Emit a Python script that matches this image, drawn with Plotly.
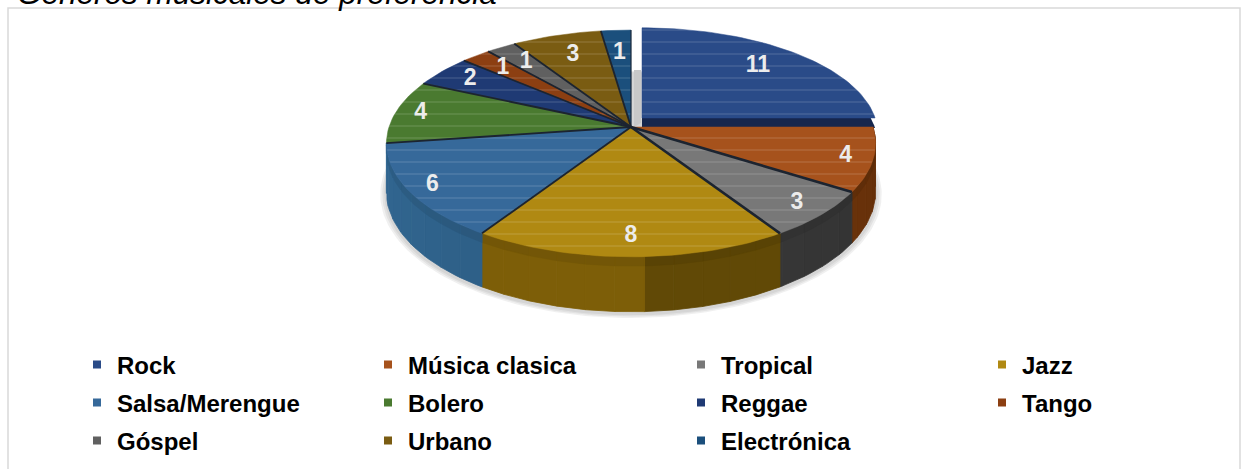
import math
import plotly.graph_objects as go

categories = ["Rock", "Música clasica", "Tropical", "Jazz", "Salsa/Merengue", "Bolero",
              "Reggae", "Tango", "Góspel", "Urbano", "Electrónica"]
values = [11, 4, 3, 8, 6, 4, 2, 1, 1, 3, 1]
top_colors = ["#2a4b88", "#a6521c", "#787878", "#b08912", "#36699a", "#4a7a30",
              "#1f3a74", "#8c3f12", "#606060", "#7a5c12", "#1b4f7c"]
wall_colors = ["#16264d", "#7a3a0c", "#3d3d3d", "#7d5e08", "#2f6189", "#35591f",
               "#152850", "#5e2a0a", "#3d3d3d", "#54400a", "#123652"]
legend_x = [77, 368, 681, 982]
legend_y = [365, 403, 441]

# projection of the tilted disc
CX, CY, RX, RY, P, DEPTH = 631, 127, 242, 111, 0.145, 47
total = sum(values)


def project(angle, r=1.0, ox=0.0, oy=0.0, sx=1.0, sy=1.0, dz=0.0):
    u = math.sin(math.radians(angle)) * r
    v = math.cos(math.radians(angle)) * r
    s = 1 / (1 + P * v)
    return CX + ox + RX * sx * u * s, CY + oy - RY * sy * v * s + dz * s


def arc(a0, a1, **kw):
    n = max(2, int(abs(a1 - a0) / 1.5))
    return [project(a0 + (a1 - a0) * i / n, **kw) for i in range(n + 1)]


def shade(hex_color, f):
    r, g, b = [int(hex_color[i:i + 2], 16) for i in (1, 3, 5)]
    return f"rgb({min(255, int(r * f))},{min(255, int(g * f))},{min(255, int(b * f))})"


spans = []
acc = 0
for val in values:
    spans.append((acc / total * 360, (acc + val) / total * 360))
    acc += val

fig = go.Figure()


def poly(points, color, line=None, width=0, pattern=None):
    fig.add_trace(go.Scatter(
        x=[p[0] for p in points] + [points[0][0]],
        y=[p[1] for p in points] + [points[0][1]],
        mode="lines", fill="toself", fillcolor=color,
        fillpattern=pattern,
        line=dict(color=line or color, width=width),
        hoverinfo="skip", showlegend=False))


def seam(p, q, color, width):
    fig.add_trace(go.Scatter(x=[p[0], q[0]], y=[p[1], q[1]], mode="lines",
                             line=dict(color=color, width=width),
                             hoverinfo="skip", showlegend=False))


# soft shadow beneath the pie
for grow in (6, 4, 2):
    pts = arc(0, 360, r=1 + grow / 245, dz=DEPTH + 1, oy=1)
    poly(pts, "rgba(60,60,60,0.08)")

# exploded first slice: its hidden body shows as a dark band
EXPL = dict(ox=11, oy=-9, sx=0.963, sy=0.93)
a0, a1 = spans[0]
rock_top = [(CX + 11, CY - 9)] + arc(a0, a1, **EXPL)
poly([(x, y + 10) for x, y in rock_top], wall_colors[0])

# shadow cast in the gap beside the exploded slice
poly([(CX + 3, 70), (CX + 10, 70), (CX + 10, 123), (CX + 3, 127)], "rgb(200,200,200)")

# outer walls, front half only
for i, (a0, a1) in enumerate(spans):
    lo, hi = max(a0, 88), min(a1, 265)
    if i == 0 or i >= 5 or lo >= hi:
        continue
    step = 6
    a = lo
    while a < hi:
        b = min(a + step, hi)
        f = 0.82 + 0.26 * ((a - 90) / 180)
        if i == 3:
            f = 1.0 if a >= 177 else 0.78
        top = arc(a, b)
        bot = arc(b, a, dz=DEPTH)
        poly(top + bot, shade(wall_colors[i], f), width=0.8)
        band = arc(b, a, dz=8)
        poly(top + band, shade(wall_colors[i], f * 0.92), width=0.5)
        a = b

# top faces
order = [10, 9, 8, 7, 6, 5, 4, 1, 2, 3, 0]
for i in order:
    a0, a1 = spans[i]
    kw = EXPL if i == 0 else {}
    apex = (CX + 11, CY - 9) if i == 0 else (CX, CY)
    pts = [apex] + arc(a0, a1, **kw)
    poly(pts, top_colors[i], width=0.5,
         pattern=dict(shape="-", fgcolor="white", fgopacity=0.13, size=12, solidity=0.12,
                      bgcolor=top_colors[i]))

# dark seams between the slices
for i, (a0, a1) in enumerate(spans):
    if i in (0, 1):
        continue
    seam((CX, CY), project(a0), "#1c2430", 2.6 if i in (2, 3) else 1.8)
seam((CX, CY), project(0), "#1c2430", 1.0)

# value labels
lx, ly = [], []
for i, (a0, a1) in enumerate(spans):
    mid = (a0 + a1) / 2
    u = math.sin(math.radians(mid))
    v = math.cos(math.radians(mid))
    f = 0.8 - 0.06 * v
    if i == 0:
        x, y = project(mid, r=f, **EXPL)
    else:
        x, y = project(mid, r=f + (0.08 if u > 0 else 0.105) * u * u)
    lx.append(x)
    ly.append(y)
fig.add_trace(go.Scatter(
    x=lx, y=ly, mode="text", text=[str(v) for v in values],
    textfont=dict(family="Liberation Sans", size=23, color="#ececec", weight="bold"),
    hoverinfo="skip", showlegend=False))

# legend
layout_legends = {}
for i, name in enumerate(categories):
    key = "legend" if i == 0 else f"legend{i + 1}"
    row, col = i // 4, i % 4
    fig.add_trace(go.Scatter(
        x=[None], y=[None], mode="markers", name=name, legend=key,
        marker=dict(symbol="square", size=8, color=top_colors[i])))
    layout_legends[key] = dict(
        x=legend_x[col] / 1248, xanchor="left",
        y=1 - legend_y[row] / 469, yanchor="middle",
        bgcolor="rgba(0,0,0,0)", borderwidth=0,
        font=dict(family="Liberation Sans", size=24, color="#000000", weight="bold"))

fig.update_layout(
    width=1248, height=469, autosize=False,
    margin=dict(l=0, r=0, t=0, b=0),
    paper_bgcolor="white", plot_bgcolor="white",
    xaxis=dict(range=[0, 1248], visible=False, fixedrange=True),
    yaxis=dict(range=[469, 0], visible=False, fixedrange=True),
    shapes=[dict(type="rect", xref="x", yref="y", x0=8, y0=8, x1=1240, y1=480,
                 line=dict(color="#d9d9d9", width=1.5), layer="below")],
    annotations=[dict(text="<i>Géneros musicales de preferencia</i>", xref="x", yref="y",
                      x=15, y=13, xanchor="left", yanchor="bottom", showarrow=False,
                      font=dict(family="Liberation Sans", size=31.5, color="#000000"))],
    **layout_legends)

fig.write_html("out.html", config=dict(displayModeBar=False),
               post_script="document.body.style.margin='0';")
